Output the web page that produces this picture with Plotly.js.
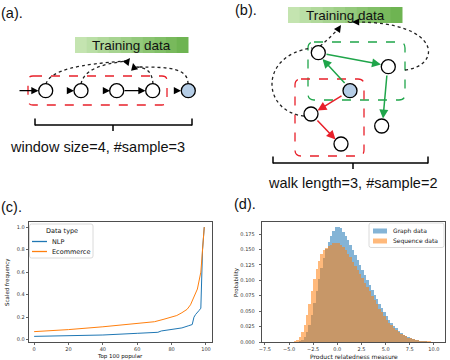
<!DOCTYPE html>
<html>
<head>
<meta charset="utf-8">
<script src="https://cdn.plot.ly/plotly-3.0.1.min.js"></script>
<style>html,body{margin:0;padding:0;background:#fff}#plot{width:450px;height:360px}</style>
</head>
<body>
<div id="plot"></div>
<script>
// (c) scaled frequency of the top 100 popular items
var nlpRank = [0, 20, 40, 60, 70, 72, 74, 80, 86, 90, 92, 93, 94, 96, 97, 98, 99];
var nlpFreq = [0.030, 0.034, 0.042, 0.057, 0.063, 0.066, 0.078, 0.090, 0.105, 0.125, 0.135, 0.200, 0.225, 0.260, 0.280, 0.800, 1.000];
var ecoRank = [0, 20, 40, 60, 70, 75, 80, 83, 86, 89, 91, 93, 95, 97, 98, 99];
var ecoFreq = [0.072, 0.090, 0.115, 0.145, 0.160, 0.180, 0.205, 0.215, 0.240, 0.270, 0.310, 0.380, 0.450, 0.600, 0.800, 1.000];

// (d) histogram of product relatedness measure
var binCenters = [-4.375, -4.125, -3.875, -3.625, -3.375, -3.125, -2.875, -2.625, -2.375, -2.125,
  -1.875, -1.625, -1.375, -1.125, -0.875, -0.625, -0.375, -0.125, 0.125, 0.375,
  0.625, 0.875, 1.125, 1.375, 1.625, 1.875, 2.125, 2.375, 2.625, 2.875,
  3.125, 3.375, 3.625, 3.875, 4.125, 4.375, 4.625, 4.875, 5.125, 5.375,
  5.625, 5.875, 6.125, 6.375, 6.625, 6.875, 7.125, 7.375, 7.625, 7.875,
  8.125, 8.375, 8.625, 8.875, 9.125, 9.375, 9.625, 9.875, 10.125, 10.375];
var graphProb = [0, 0.0005, 0.001, 0.003, 0.008, 0.016, 0.028, 0.044, 0.063, 0.083,
  0.102, 0.120, 0.136, 0.150, 0.162, 0.172, 0.180, 0.186, 0.187, 0.184,
  0.179, 0.172, 0.165, 0.157, 0.149, 0.141, 0.133, 0.125, 0.117, 0.109,
  0.101, 0.093, 0.085, 0.077, 0.069, 0.062, 0.055, 0.048, 0.042, 0.036,
  0.031, 0.026, 0.022, 0.018, 0.015, 0.012, 0.010, 0.008, 0.006, 0.005,
  0.004, 0.003, 0.002, 0.0015, 0.001, 0.0008, 0.0005, 0.0003, 0.0002, 0.0001];
var seqProb = [0.001, 0.003, 0.008, 0.016, 0.028, 0.043, 0.062, 0.083, 0.102, 0.118,
  0.132, 0.142, 0.149, 0.153, 0.156, 0.158, 0.160, 0.161, 0.160, 0.158,
  0.154, 0.149, 0.143, 0.137, 0.130, 0.124, 0.117, 0.110, 0.103, 0.096,
  0.089, 0.082, 0.075, 0.068, 0.061, 0.054, 0.048, 0.042, 0.036, 0.031,
  0.027, 0.023, 0.019, 0.016, 0.013, 0.011, 0.009, 0.007, 0.006, 0.005,
  0.004, 0.003, 0.002, 0.002, 0.001, 0.001, 0.001, 0.0005, 0.0003, 0.0002];

var xTicksC = [0, 20, 40, 60, 80, 100];
var yTicksC = [0, 0.2, 0.4, 0.6, 0.8, 1.0];
var yTickTextC = ['0.0', '0.2', '0.4', '0.6', '0.8', '1.0'];
var xTicksD = [-7.5, -5, -2.5, 0, 2.5, 5, 7.5, 10];
var xTickTextD = ['\u22127.5', '\u22125.0', '\u22122.5', '0.0', '2.5', '5.0', '7.5', '10.0'];
var yTicksD = [0, 0.025, 0.05, 0.075, 0.1, 0.125, 0.15, 0.175];
var yTickTextD = ['0.000', '0.025', '0.050', '0.075', '0.100', '0.125', '0.150', '0.175'];

// diagram nodes, in pixel space of the overlay axes
var diagram = {
  x: [45.7, 81, 116.7, 152.7, 188.3, 318.3, 388.3, 350, 311, 381.7, 341],
  y: [90.7, 90.7, 90.7, 90.7, 90.7, 52.7, 66.7, 90.7, 114, 126, 144],
  fill: ['#fff', '#fff', '#fff', '#fff', '#b5cde6', '#fff', '#fff', '#b5cde6', '#fff', '#fff', '#fff']
};

var sans = 'Liberation Sans, Arial, sans-serif';
var mpl = 'DejaVu Sans, sans-serif';
var green = '#1fa54a', red = '#e8202a';
var blueC = '#1f77b4', orangeC = '#ff7f0e';
var blueA = 'rgba(31,119,180,0.55)', orangeA = 'rgba(255,127,14,0.55)';

var traces = [
  {x: nlpRank, y: nlpFreq, type: 'scatter', mode: 'lines', name: 'NLP',
   line: {color: blueC, width: 1}, xaxis: 'x', yaxis: 'y'},
  {x: ecoRank, y: ecoFreq, type: 'scatter', mode: 'lines', name: 'Ecommerce',
   line: {color: orangeC, width: 1}, xaxis: 'x', yaxis: 'y'},
  {x: binCenters, y: graphProb, type: 'bar', name: 'Graph data', width: 0.25,
   marker: {color: blueA, line: {width: 0}}, xaxis: 'x2', yaxis: 'y2'},
  {x: binCenters, y: seqProb, type: 'bar', name: 'Sequence data', width: 0.25,
   marker: {color: orangeA, line: {width: 0}}, xaxis: 'x2', yaxis: 'y2'},
  {x: diagram.x, y: diagram.y, type: 'scatter', mode: 'markers', hoverinfo: 'skip',
   marker: {size: 14, color: diagram.fill, line: {color: '#000', width: 1.3}}, xaxis: 'x3', yaxis: 'y3'}
];

function rr(x0, y0, x1, y1, r) {
  return 'M' + (x0 + r) + ',' + y0 + ' L' + (x1 - r) + ',' + y0 + ' Q' + x1 + ',' + y0 + ' ' + x1 + ',' + (y0 + r) +
    ' L' + x1 + ',' + (y1 - r) + ' Q' + x1 + ',' + y1 + ' ' + (x1 - r) + ',' + y1 +
    ' L' + (x0 + r) + ',' + y1 + ' Q' + x0 + ',' + y1 + ' ' + x0 + ',' + (y1 - r) +
    ' L' + x0 + ',' + (y0 + r) + ' Q' + x0 + ',' + y0 + ' ' + (x0 + r) + ',' + y0 + ' Z';
}
function px(s, layer) { s.xref = 'x3'; s.yref = 'y3'; s.layer = layer || 'below'; return s; }
function seg(x0, y0, x1, y1) { return px({type: 'line', x0: x0, y0: y0, x1: x1, y1: y1, line: {color: '#000', width: 1.5}}); }
function dotted(p) { return px({type: 'path', path: p, line: {color: '#222', width: 1.3, dash: 'dot'}}); }
function arrow(x, y, ax, ay, color, w) {
  return {xref: 'x3', yref: 'y3', axref: 'x3', ayref: 'y3', x: x, y: y, ax: ax, ay: ay, text: '',
    showarrow: true, arrowhead: 2, arrowsize: 1.2, arrowwidth: w || 1.2, arrowcolor: color || '#000', standoff: 0};
}
function label(x, y, t, size, font, extra) {
  var a = {xref: 'x3', yref: 'y3', x: x, y: y, text: t, showarrow: false,
    font: {family: font || sans, size: size, color: '#111'}};
  for (var k in extra) a[k] = extra[k];
  return a;
}

var shapes = [];
// gradient "Training data" boxes
[[75, 37, 188, 53], [288, 7, 402, 23]].forEach(function (b) {
  var n = 10, w = (b[2] - b[0]) / n;
  for (var i = 0; i < n; i++) {
    var t = i / (n - 1);
    var c = 'rgb(' + Math.round(196 - 86 * t) + ',' + Math.round(228 - 48 * t) + ',' + Math.round(176 - 94 * t) + ')';
    shapes.push(px({type: 'rect', x0: b[0] + i * w, x1: b[0] + (i + 1) * w + 0.5, y0: b[1], y1: b[3],
      fillcolor: c, line: {width: 0}}));
  }
});
// (a) window
shapes.push(px({type: 'path', path: rr(28, 76, 167, 105, 5), line: {color: red, width: 1.3, dash: 'dash'}}));
shapes.push(dotted('M46,84 C50,70 80,64 127,61'));
shapes.push(dotted('M81,84 C84,70 100,64 127,61'));
shapes.push(dotted('M153,84 C152,70 145,67 135,67'));
shapes.push(dotted('M188,84 C188,68 170,67 137,67'));
shapes.push(seg(35, 125, 192, 125), seg(35, 118.5, 35, 125.5), seg(192, 118.5, 192, 125.5), seg(113, 125, 113, 131));
// (b) walks
shapes.push(px({type: 'path', path: rr(308, 42, 405, 100, 6), line: {color: green, width: 1.3, dash: 'dash'}}));
shapes.push(px({type: 'path', path: rr(295, 79, 364, 156, 6), line: {color: red, width: 1.3, dash: 'dash'}}));
shapes.push(dotted('M320,46 Q330,38 339,28'));
shapes.push(dotted('M405,70 C442,66 442,22 356,22'));
shapes.push(dotted('M304,116 C262,112 258,55 312,48'));
shapes.push(seg(273, 163, 428, 163), seg(273, 156.5, 273, 163.5), seg(428, 156.5, 428, 163.5), seg(353, 163, 353, 169));
// legend boxes for (c) and (d)
shapes.push(px({type: 'path', path: rr(29.5, 224, 93, 258, 2), fillcolor: 'rgba(255,255,255,0.85)', line: {color: '#d0d0d0', width: 0.8}}, 'above'));
shapes.push(px({type: 'line', x0: 32, x1: 47, y0: 241.5, y1: 241.5, line: {color: blueC, width: 1.3}}, 'above'));
shapes.push(px({type: 'line', x0: 32, x1: 47, y0: 251.5, y1: 251.5, line: {color: orangeC, width: 1.3}}, 'above'));
shapes.push(px({type: 'path', path: rr(369, 223, 444, 247.5, 2), fillcolor: 'rgba(255,255,255,0.85)', line: {color: '#d0d0d0', width: 0.8}}, 'above'));
shapes.push(px({type: 'rect', x0: 373, x1: 387, y0: 228.5, y1: 233.5, fillcolor: blueA, line: {width: 0}}, 'above'));
shapes.push(px({type: 'rect', x0: 373, x1: 387, y0: 238.5, y1: 243.5, fillcolor: orangeA, line: {width: 0}}, 'above'));

var annotations = [
  label(12, 13, '(a).', 14.5), label(246, 10, '(b).', 14.5),
  label(11, 207, '(c).', 14.5), label(245, 204, '(d).', 14.5),
  label(131, 45, 'Training data', 13.5), label(345, 15, 'Training data', 13.5),
  label(97, 147, 'window size=4, #sample=3', 14.5),
  label(352, 183, 'walk length=3, #sample=2', 14.5),
  // (a) chain arrows
  arrow(38.5, 90.7, 18, 90.7), arrow(74, 90.7, 69, 90.7), arrow(110, 90.7, 105, 90.7),
  arrow(145.5, 90.7, 123, 90.7), arrow(181, 90.7, 176, 90.7),
  arrow(130, 58, 127, 62), arrow(133, 63, 134, 67.5),
  // (b) walk arrows
  arrow(322.5, 59, 346, 84.5, green, 1.5), arrow(381, 64.5, 325, 54, green, 1.5), arrow(383, 118.5, 387, 74, green, 1.5),
  arrow(317.5, 110.5, 343, 95, red, 1.5), arrow(335.5, 139.5, 316, 119, red, 1.5),
  arrow(341, 25, 338, 29.5), arrow(352, 22, 357, 22),
  // axis titles
  label(120, 356, 'Top 100 popular', 5.5, mpl),
  label(7, 282, 'Scaled frequency', 5.5, mpl, {textangle: -90}),
  label(354, 356, 'Product relatedness measure', 6, mpl),
  label(236, 282, 'Probability', 5.5, mpl, {textangle: -90}),
  // legends
  label(62, 231, 'Data type', 6.5, mpl),
  label(50, 241.5, 'NLP', 6.5, mpl, {xanchor: 'left'}),
  label(50, 251.5, 'Ecommerce', 6.5, mpl, {xanchor: 'left'}),
  label(391, 231, 'Graph data', 6, mpl, {xanchor: 'left'}),
  label(391, 241, 'Sequence data', 6, mpl, {xanchor: 'left'})
];

function axis(extra) {
  var a = {showline: true, mirror: true, linecolor: '#222', linewidth: 0.8, ticks: 'outside', ticklen: 2.5,
    tickcolor: '#222', tickwidth: 0.7, showgrid: false, zeroline: false, fixedrange: true,
    tickfont: {family: mpl, size: 5, color: '#333'}};
  for (var k in extra) a[k] = extra[k];
  return a;
}
function hidden(extra) {
  var a = {visible: false, fixedrange: true, showgrid: false, zeroline: false};
  for (var k in extra) a[k] = extra[k];
  return a;
}

var layout = {
  width: 450, height: 360,
  margin: {l: 0, r: 0, t: 0, b: 0},
  paper_bgcolor: '#fff', plot_bgcolor: 'rgba(0,0,0,0)',
  barmode: 'overlay', bargap: 0, showlegend: false,
  xaxis: axis({domain: [0.0644, 0.4711], anchor: 'y', range: [-3, 103.5], tickvals: xTicksC}),
  yaxis: axis({domain: [0.05, 0.3833], anchor: 'x', range: [-0.02, 1.045], tickvals: yTicksC, ticktext: yTickTextC}),
  xaxis2: axis({domain: [0.5822, 0.9889], anchor: 'y2', range: [-7.8, 11.15], tickvals: xTicksD, ticktext: xTickTextD}),
  yaxis2: axis({domain: [0.05, 0.3833], anchor: 'x2', range: [0, 0.1945], tickvals: yTicksD, ticktext: yTickTextD, ticklabelstandoff: 3}),
  xaxis3: hidden({domain: [0, 1], anchor: 'y3', range: [0, 450]}),
  yaxis3: hidden({domain: [0, 1], anchor: 'x3', range: [360, 0]}),
  shapes: shapes,
  annotations: annotations
};

Plotly.newPlot('plot', traces, layout, {displayModeBar: false, staticPlot: true});
</script>
</body>
</html>
